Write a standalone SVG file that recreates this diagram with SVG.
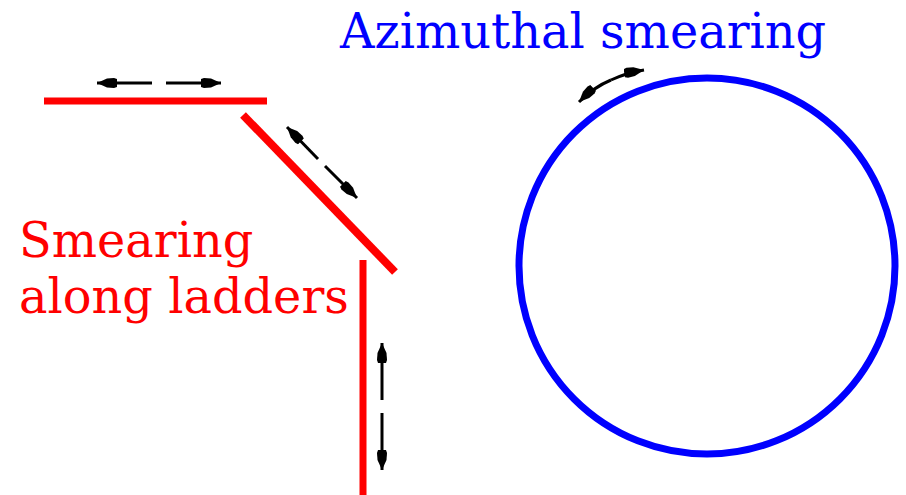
<svg xmlns="http://www.w3.org/2000/svg" width="906" height="495" viewBox="0 0 906 495">
<style>
.ladder{stroke:#ff0000;stroke-width:7;fill:none}
.arr{stroke:#000;stroke-width:3;fill:none;marker-end:url(#ah)}
.lbl{font-family:"DejaVu Serif",serif;font-size:47.8px}
</style>
<defs>
<marker id="ah" viewBox="0 0 20 12" refX="20" refY="6" markerWidth="20" markerHeight="12" markerUnits="userSpaceOnUse" orient="auto">
<path d="M0,2 L3,1 L10,1.5 L20,6 L10,10.5 L3,11 L0,10 Z" fill="#000"/>
</marker>
</defs>
<g id="ladder-top"><line class="ladder" x1="44" y1="101" x2="267" y2="101"/></g>
<g id="ladder-diag"><line class="ladder" x1="243" y1="115" x2="395" y2="272" style="stroke-width:8"/></g>
<g id="ladder-vert"><line class="ladder" x1="363" y1="260" x2="363" y2="495"/></g>
<g id="circle"><circle cx="707" cy="266" r="188" fill="none" stroke="#0000ff" stroke-width="7"/></g>
<g id="label-ladders"><text class="lbl" fill="#ff0000" x="19" y="257">Smearing</text><text class="lbl" fill="#ff0000" x="19" y="313">along ladders</text></g>
<g id="label-azimuthal"><text class="lbl" fill="#0000ff" x="340" y="48">Azimuthal smearing</text></g>
<g id="connectors">
<line class="arr" x1="152" y1="83" x2="97" y2="83"/>
<line class="arr" x1="166" y1="83" x2="221" y2="83"/>
<line class="arr" x1="318" y1="159" x2="287" y2="127"/>
<line class="arr" x1="325" y1="166" x2="357" y2="198"/>
<line class="arr" x1="382" y1="400" x2="382" y2="343"/>
<line class="arr" x1="382" y1="413" x2="382" y2="470"/>
<path class="arr" d="M611,80 Q594,87 579,102"/>
<path class="arr" d="M611,80 Q626,73 644,70"/>
</g>
</svg>
